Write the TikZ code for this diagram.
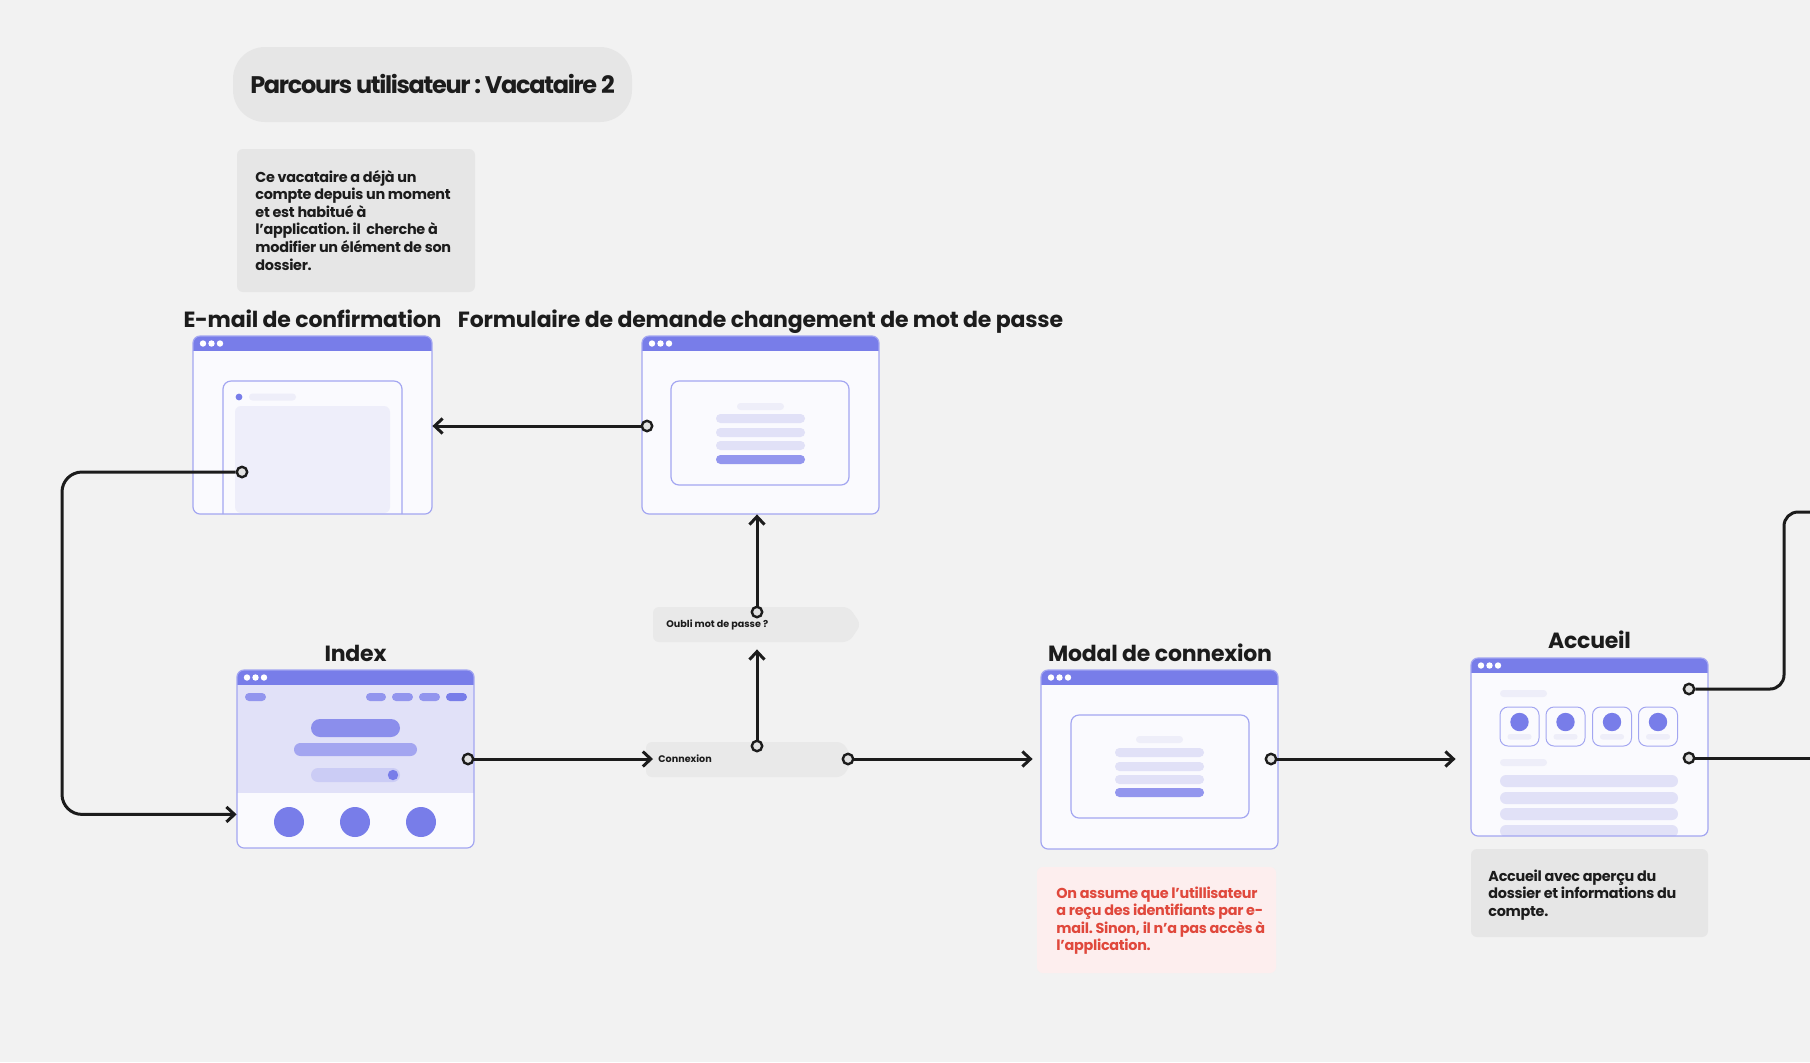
\documentclass[tikz,border=0pt]{standalone}
\usepackage{fontspec}
\setmainfont{Poppins}
\frenchspacing
\usetikzlibrary{arrows.meta,calc,fit}

\definecolor{canvas}{HTML}{F2F2F2}
\definecolor{noteGray}{HTML}{E6E6E6}
\definecolor{ink}{HTML}{1C1C1C}
\definecolor{portFill}{HTML}{E2E2E2}
\definecolor{winBar}{HTML}{787DE9}
\definecolor{winEdge}{HTML}{A3A6F1}
\definecolor{winBg}{HTML}{FAFAFE}
\definecolor{barLight}{HTML}{E1E1F7}
\definecolor{barPale}{HTML}{EEEEF9}
\definecolor{barStrong}{HTML}{9396EE}
\definecolor{heroBg}{HTML}{E1E1F8}
\definecolor{navBar}{HTML}{9295EE}
\definecolor{heroA}{HTML}{8B8EEC}
\definecolor{heroB}{HTML}{A3A5F0}
\definecolor{heroC}{HTML}{CBCCF5}
\definecolor{panel}{HTML}{EEEEFA}
\definecolor{pinkBg}{HTML}{FDEEEE}
\definecolor{redInk}{HTML}{E0483C}
\definecolor{labelBox}{HTML}{E9E9E9}

% browser window: name, x1, y1, x2, y2, inner drawing
\newcommand\uiwindow[6]{%
  \begin{scope}
    \clip[rounded corners=3.5pt] (#2,#3) rectangle (#4,#5);
    \fill[winBg] (#2,#3) rectangle (#4,#5);
    #6
    \fill[winBar] (#2,#3) rectangle (#4,#3+15);
    \foreach \dx in {10,18.5,27} \fill[white] (#2+\dx,#3+7.5) circle[radius=1.6pt];
  \end{scope}
  \draw[winEdge, line width=0.6pt, rounded corners=3.5pt] (#2,#3) rectangle (#4,#5);
  \node[fit={(#2,#3) (#4,#5)}, inner sep=0pt] (#1) {};
}

\tikzset{
  conn/.style={draw=ink, line width=1.5pt, -{Straight Barb[length=4pt,width=7.5pt]}},
  plainconn/.style={draw=ink, line width=1.5pt},
  port/.style={circle, draw=ink, line width=1.2pt, fill=portFill, minimum size=5.2pt, inner sep=0pt},
  sectitle/.style={anchor=base, inner sep=0pt, text=ink, font=\fontsize{11}{13}\selectfont\bfseries\addfontfeatures{LetterSpace=-1}},
  notetext/.style={anchor=base west, inner sep=0pt, font=\fontsize{7.2}{8.8}\selectfont\bfseries\addfontfeatures{LetterSpace=-2}},
  lbl/.style={anchor=west, inner xsep=2.5pt, inner ysep=0pt, text=ink, font=\fontsize{4.8}{6}\selectfont\bfseries},
  card/.style={draw=winEdge, line width=0.5pt, fill=winBg, rounded corners=4pt},
}

\begin{document}
\begin{tikzpicture}[x=0.5pt,y=-0.5pt]
\fill[canvas] (0,0) rectangle (1810,1062);
\useasboundingbox (0,0) rectangle (1810,1062);

% heading and description
\node[fill=noteGray, rounded corners=16pt, minimum width=199.5pt, minimum height=37.5pt,
      text height=8.5pt, text depth=0pt, inner sep=0pt, text=ink,
      font=\fontsize{12}{14}\selectfont\bfseries\addfontfeatures{LetterSpace=-5.5}] (title) at (432.5,84.5) {Parcours utilisateur : Vacataire 2};

\node[fit={(237,149) (475,292)}, inner sep=0pt, fill=noteGray, rounded corners=3pt] (descBox) {};
\node[notetext, text=ink] (descText) at (255,182) {\parbox[t]{130pt}{%
  Ce vacataire a déjà un\\
  compte depuis un moment\\
  et est habitué à\\
  l’application. il~ cherche à\\
  modifier un élément de son\\
  dossier.}};

% E-mail de confirmation
\node[sectitle] (emailTitle) at (312.5,327) {E-mail de confirmation};
\uiwindow{email}{193}{336}{432}{514}{%
  \fill[panel, rounded corners=3pt] (235,406) rectangle (390,513);
  \draw[winEdge, line width=0.6pt, rounded corners=4pt] (223,530) -- (223,381) -- (402,381) -- (402,530);
  \fill[winBar] (239,397) circle[radius=1.7pt];
  \fill[barPale, rounded corners=1.7pt] (249,393.5) rectangle (296,400.5);
}

% Formulaire de demande
\node[sectitle] (formTitle) at (760.5,327) {Formulaire de demande changement de mot de passe};
\uiwindow{form}{642}{336}{879}{514}{%
  \draw[winEdge, line width=0.6pt, fill=winBg, rounded corners=4pt] (671,381) rectangle (849,485);
  \fill[barPale, rounded corners=1.7pt] (737,403) rectangle (784,410);
  \fill[barLight, rounded corners=2.2pt] (716,414) rectangle (805,423);
  \fill[barLight, rounded corners=2.2pt] (716,428) rectangle (805,437);
  \fill[barLight, rounded corners=2.2pt] (716,441) rectangle (805,450);
  \fill[barStrong, rounded corners=2.2pt] (716,455) rectangle (805,464);
}

% Index
\node[sectitle] (idxTitle) at (355.5,661) {Index};
\uiwindow{idx}{237}{670}{474}{848}{%
  \fill[heroBg] (237,670) rectangle (474,793);
  \fill[navBar, rounded corners=2pt] (245,693) rectangle (266,701);
  \fill[navBar, rounded corners=2pt] (366,693) rectangle (386,701);
  \fill[navBar, rounded corners=2pt] (392,693) rectangle (413,701);
  \fill[navBar, rounded corners=2pt] (419,693) rectangle (440,701);
  \fill[winBar, rounded corners=2pt] (446,693) rectangle (467,701);
  \fill[heroA, rounded corners=4.5pt] (311,719) rectangle (400,737);
  \fill[heroB, rounded corners=3.2pt] (294,743) rectangle (417,756);
  \fill[heroC, rounded corners=3.5pt] (311,768) rectangle (400,782);
  \fill[winBar] (393,775) circle[radius=2.6pt];
  \foreach \cx in {289,355,421} \fill[winBar] (\cx,822) circle[radius=7.5pt];
}

% Connexion / Oubli labels
\fill[labelBox, rounded corners=3pt] (646,742) -- (843,742) -- (853,759.5) -- (843,777) -- (646,777) -- cycle;
\node[lbl] (cnx) at (653,759) {Connexion};
\fill[labelBox, rounded corners=3pt] (653,607) -- (849,607) -- (861,624.5) -- (849,642) -- (653,642) -- cycle;
\node[fit={(653,607) (861,642)}, inner sep=0pt] (oubliBox) {};
\node[lbl] (oubli) at (661,624.5) {Oubli mot de passe ?};

% Modal de connexion
\node[sectitle] (modalTitle) at (1160,661) {Modal de connexion};
\uiwindow{modal}{1041}{670}{1278}{849}{%
  \draw[winEdge, line width=0.6pt, fill=winBg, rounded corners=4pt] (1071,715) rectangle (1249,818);
  \fill[barPale, rounded corners=1.7pt] (1136,736) rectangle (1183,743);
  \fill[barLight, rounded corners=2.2pt] (1115,748) rectangle (1204,757);
  \fill[barLight, rounded corners=2.2pt] (1115,762) rectangle (1204,771);
  \fill[barLight, rounded corners=2.2pt] (1115,775) rectangle (1204,784);
  \fill[barStrong, rounded corners=2.2pt] (1115,788) rectangle (1204,797);
}
\node[fit={(1037,867) (1276,973)}, inner sep=0pt, fill=pinkBg, rounded corners=3pt] (warnBox) {};
\node[notetext, text=redInk] (warnText) at (1056,898) {\parbox[t]{130pt}{%
  On assume que l’utillisateur\\
  a reçu des identifiants par e-\\
  mail. Sinon, il n’a pas accès à\\
  l’application.}};

% Accueil
\node[sectitle] (accTitle) at (1589.5,648) {Accueil};
\uiwindow{acc}{1471}{658}{1708}{836}{%
  \fill[barPale, rounded corners=1.7pt] (1500,690) rectangle (1547,697);
  \foreach \cx in {1519.5,1565.5,1612,1658} {
    \draw[card] (\cx-19.5,707) rectangle (\cx+19.5,746);
    \fill[winBar] (\cx,722) circle[radius=4.6pt];
    \fill[barPale, rounded corners=1.3pt] (\cx-12,734) rectangle (\cx+12,739.5);
  }
  \fill[barPale, rounded corners=1.7pt] (1500,759) rectangle (1547,766);
  \foreach \ry in {775,792,808,825} \fill[barLight, rounded corners=3pt] (1500,\ry) rectangle (1678,\ry+12);
}
\node[fit={(1471,849) (1708,937)}, inner sep=0pt, fill=noteGray, rounded corners=3pt] (accBox) {};
\node[notetext, text=ink] (accText) at (1488,881) {\parbox[t]{130pt}{%
  Accueil avec aperçu du\\
  dossier et informations du\\
  compte.}};

% connection points
\node[port] (pForm) at (647,426) {};
\node[port] (pEmail) at (242,472) {};
\node[port] (pIdx) at (468,759) {};
\node[port] (pCnxTop) at (757,746) {};
\node[port] (pOubli) at (757,612) {};
\node[port] (pCnxR) at (848,759) {};
\node[port] (pModal) at (1271,759) {};
\node[port] (pAcc1) at (1689,689) {};
\node[port] (pAcc2) at (1689,758) {};

\coordinate (idxIn) at ($(idx.south west)+(0,-34)$);
\coordinate (loopCorner) at (62,472);
\coordinate (riseX) at (1784,512);
\coordinate (outTop) at (1816,512);
\coordinate (outLow) at (1816,758);

% connectors
\draw[conn] (pForm) -- (pForm -| email.east);
\draw[conn, rounded corners=10pt] (pEmail) -- (loopCorner) |- (idxIn);
\draw[conn] (pIdx) -- (pIdx -| cnx.west);
\draw[conn] (pCnxTop) -- ($(pCnxTop |- oubliBox.south)+(0,7)$);
\draw[conn] (pOubli) -- (pOubli |- form.south);
\draw[conn] (pCnxR) -- ($(modal.west |- pCnxR)+(-8,0)$);
\draw[conn] (pModal) -- ($(acc.west |- pModal)+(-15,0)$);
\draw[plainconn, rounded corners=7pt] (pAcc1) -| (riseX) -- (outTop);
\draw[plainconn] (pAcc2) -- (outLow);
\end{tikzpicture}
\end{document}
